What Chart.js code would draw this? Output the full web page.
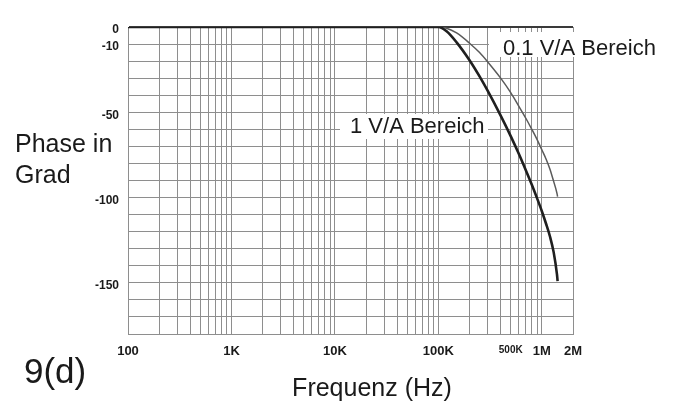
<!DOCTYPE html>
<html>
<head>
<meta charset="utf-8">
<script src="https://cdn.jsdelivr.net/npm/chart.js@4.4.1/dist/chart.umd.min.js"></script>
<style>
html, body { margin:0; padding:0; background:#fff; }
</style>
</head>
<body>
<canvas id="phaseChart" width="674" height="405"></canvas>
<script>
// 1 V/A Bereich (dicke Kurve)
const freqA = [100, 100000, 120000, 150000, 200000, 250000, 300000, 400000, 500000, 600000, 700000, 800000, 900000, 1000000, 1100000, 1200000, 1300000, 1400000, 1420000]
const phaseA = [0, 0, -2.5, -9, -19.5, -29, -37.5, -52, -64, -74.5, -84, -92.5, -100.5, -108, -115.5, -123, -132, -145, -149]

// 0.1 V/A Bereich (duenne Kurve)
const freqB = [100, 100000, 120000, 150000, 200000, 250000, 300000, 400000, 500000, 600000, 700000, 800000, 900000, 1000000, 1100000, 1200000, 1300000, 1400000, 1420000]
const phaseB = [0, 0, -0.7, -3.5, -9.5, -15, -20.5, -30, -38.5, -46.5, -53.5, -60, -66, -72, -77.5, -83.5, -90.5, -97.5, -99.5]

const xTickValues = [100, 1000, 10000, 100000, 500000, 1000000, 2000000]
const xTickText = ['100', '1K', '10K', '100K', '500K', '1M', '2M']
const yTickValues = [0, -10, -50, -100, -150]

const FONT = "'Liberation Sans', Arial, sans-serif"
const GRID = '#8e8e8e'

// Gitterlinien 1..9 je Dekade bis 2M
const xGrid = []
for(let d = 100; d <= 1000000; d *= 10) {
    for(let m = 1; m <= 9; m++) {
        if(d * m <= 2000000) xGrid.push(d * m)
    }
}

// horizontale Linien alle 10 Grad
const yGrid = []
for(let v = -180; v <= 0; v += 10) {
    yGrid.push(v)
}

function toPoints(xs, ys) {
    return xs.map((x, i) => ({x: x, y: ys[i]}))
}

const textPlugin = {
    id: 'texts',
    beforeDatasetsDraw(chart) {
        const ctx = chart.ctx
        ctx.save()
        ctx.fillStyle = '#fff'
        ctx.fillRect(340, 114, 148, 25)
        ctx.fillRect(489, 32, 185, 25)
        ctx.fillStyle = '#1a1a1a'
        ctx.font = '22px ' + FONT
        ctx.textBaseline = 'alphabetic'
        ctx.textAlign = 'left'
        ctx.fillText('1 V/A Bereich', 350, 133)
        ctx.fillText('0.1 V/A Bereich', 503, 55)
        ctx.restore()
    },
    afterDraw(chart) {
        const ctx = chart.ctx
        ctx.save()
        ctx.fillStyle = '#1a1a1a'
        ctx.textBaseline = 'alphabetic'
        ctx.textAlign = 'left'
        ctx.font = '25px ' + FONT
        ctx.fillText('Phase in', 15, 152)
        ctx.fillText('Grad', 15, 183)
        ctx.font = '35px ' + FONT
        ctx.fillText('9(d)', 24, 383)
        ctx.textAlign = 'center'
        ctx.font = '25px ' + FONT
        ctx.fillText('Frequenz (Hz)', 372, 396)
        ctx.restore()
    }
}

new Chart(document.getElementById('phaseChart'), {
    type: 'line',
    data: {
        datasets: [{
            label: '1 V/A Bereich',
            data: toPoints(freqA, phaseA),
            borderColor: '#1f1f1f',
            borderWidth: 2.6,
            pointRadius: 0,
            cubicInterpolationMode: 'monotone'
        }, {
            label: '0.1 V/A Bereich',
            data: toPoints(freqB, phaseB),
            borderColor: '#5a5a5a',
            borderWidth: 1.5,
            pointRadius: 0,
            cubicInterpolationMode: 'monotone'
        }]
    },
    options: {
        responsive: false,
        animation: false,
        devicePixelRatio: 1,
        layout: {
            padding: {top: 27, right: 101, bottom: 0, left: 0}
        },
        plugins: {
            legend: {display: false},
            tooltip: {enabled: false}
        },
        scales: {
            x: {
                type: 'logarithmic',
                min: 100,
                max: 2000000,
                afterBuildTicks(scale) {
                    scale.ticks = xGrid.map(v => ({value: v}))
                },
                afterFit(scale) {
                    scale.height = 71
                },
                border: {display: true, color: GRID, width: 1},
                grid: {
                    color: GRID,
                    lineWidth: 1,
                    drawTicks: false
                },
                ticks: {
                    autoSkip: false,
                    maxRotation: 0,
                    padding: 10,
                    color: '#1a1a1a',
                    font: (c) => ({
                        family: FONT,
                        weight: 'bold',
                        size: (c.tick && c.tick.value === 500000) ? 10 : 13
                    }),
                    callback: (value) => {
                        const i = xTickValues.indexOf(value)
                        return i >= 0 ? xTickText[i] : ''
                    }
                }
            },
            y: {
                min: -180,
                max: 0,
                afterBuildTicks(scale) {
                    scale.ticks = yGrid.map(v => ({value: v}))
                },
                afterFit(scale) {
                    scale.width = 128
                },
                border: {display: true, color: GRID, width: 1},
                grid: {
                    color: (c) => (c.tick && c.tick.value === 0) ? '#3a3a3a' : GRID,
                    lineWidth: (c) => (c.tick && c.tick.value === 0) ? 2 : 1,
                    drawTicks: false
                },
                ticks: {
                    autoSkip: false,
                    padding: 9,
                    labelOffset: 3,
                    color: '#1a1a1a',
                    font: {family: FONT, weight: 'bold', size: 12},
                    callback: (value) => yTickValues.includes(value) ? String(value) : ''
                }
            }
        }
    },
    plugins: [textPlugin]
})
</script>
</body>
</html>
